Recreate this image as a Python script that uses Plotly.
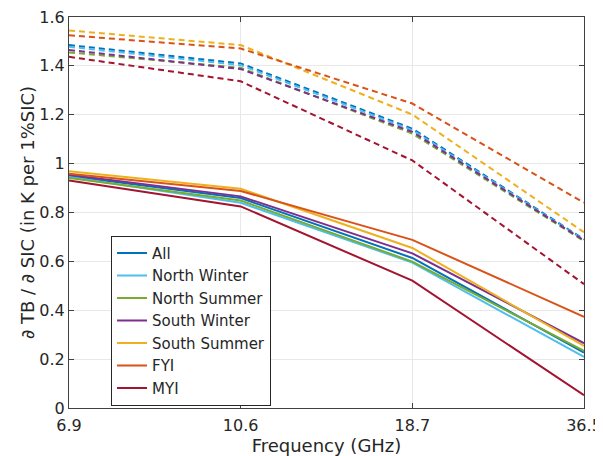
import plotly.graph_objects as go

# frequencias (GHz) no eixo x
frequencias = ["6.9", "10.6", "18.7", "36.5"]
series = ["All", "North Winter", "North Summer", "South Winter", "South Summer", "FYI", "MYI"]
cores = ["#0072BD", "#4DBEEE", "#77AC30", "#7E2F8E", "#EDB120", "#D95319", "#A2142F"]

# linhas continuas
all_solido = [0.949, 0.859, 0.614, 0.227]
north_winter_solido = [0.945, 0.840, 0.595, 0.209]
north_summer_solido = [0.941, 0.849, 0.599, 0.234]
south_winter_solido = [0.955, 0.866, 0.633, 0.265]
south_summer_solido = [0.969, 0.897, 0.655, 0.254]
fyi_solido = [0.959, 0.888, 0.688, 0.373]
myi_solido = [0.931, 0.825, 0.521, 0.052]

# linhas tracejadas
all_tracejado = [1.485, 1.410, 1.143, 0.690]
north_winter_tracejado = [1.478, 1.403, 1.137, 0.688]
north_summer_tracejado = [1.455, 1.392, 1.123, 0.683]
south_winter_tracejado = [1.465, 1.387, 1.130, 0.686]
south_summer_tracejado = [1.545, 1.485, 1.201, 0.719]
fyi_tracejado = [1.525, 1.471, 1.246, 0.840]
myi_tracejado = [1.437, 1.337, 1.013, 0.507]

solidos = [all_solido, north_winter_solido, north_summer_solido, south_winter_solido,
           south_summer_solido, fyi_solido, myi_solido]
tracejados = [all_tracejado, north_winter_tracejado, north_summer_tracejado, south_winter_tracejado,
              south_summer_tracejado, fyi_tracejado, myi_tracejado]

fig = go.Figure()
for nome, cor, y in zip(series, cores, tracejados):
    fig.add_trace(go.Scatter(x=frequencias, y=y, mode="lines", showlegend=False,
                             line=dict(color=cor, width=2, dash="6px,4px")))
for nome, cor, y in zip(series, cores, solidos):
    fig.add_trace(go.Scatter(x=frequencias, y=y, mode="lines", name=nome,
                             line=dict(color=cor, width=2)))

eixo = dict(showline=True, linecolor="#404040", linewidth=1, mirror="ticks", ticks="inside",
            ticklen=5, tickcolor="#404040", showgrid=True, gridcolor="#e8e8e8", zeroline=False,
            automargin=False, ticklabeloverflow="allow", tickfont=dict(size=16, color="#262626"))

# a pagina tem 8px de margem no body, por isso as margens ficam deslocadas
fig.update_layout(
    width=603, height=456,
    margin=dict(l=61, r=27, t=9, b=56),
    plot_bgcolor="white", paper_bgcolor="white",
    font=dict(family="DejaVu Sans", color="#262626"),
    legend=dict(x=0.0816, y=0.4407, xanchor="left", yanchor="top", bgcolor="white",
                bordercolor="#262626", borderwidth=1, font=dict(size=15, color="#262626")),
)
fig.update_xaxes(eixo, type="category", range=[0, 3], ticklabelstandoff=3,
                 title=dict(text="Frequency (GHz)", font=dict(size=18), standoff=5))
fig.update_yaxes(eixo, range=[0, 1.6], dtick=0.2, tickformat="~g",
                 title=dict(text="∂ TB / ∂ SIC (in K per 1%SIC)", font=dict(size=18), standoff=0))

fig.write_html("out.html")
